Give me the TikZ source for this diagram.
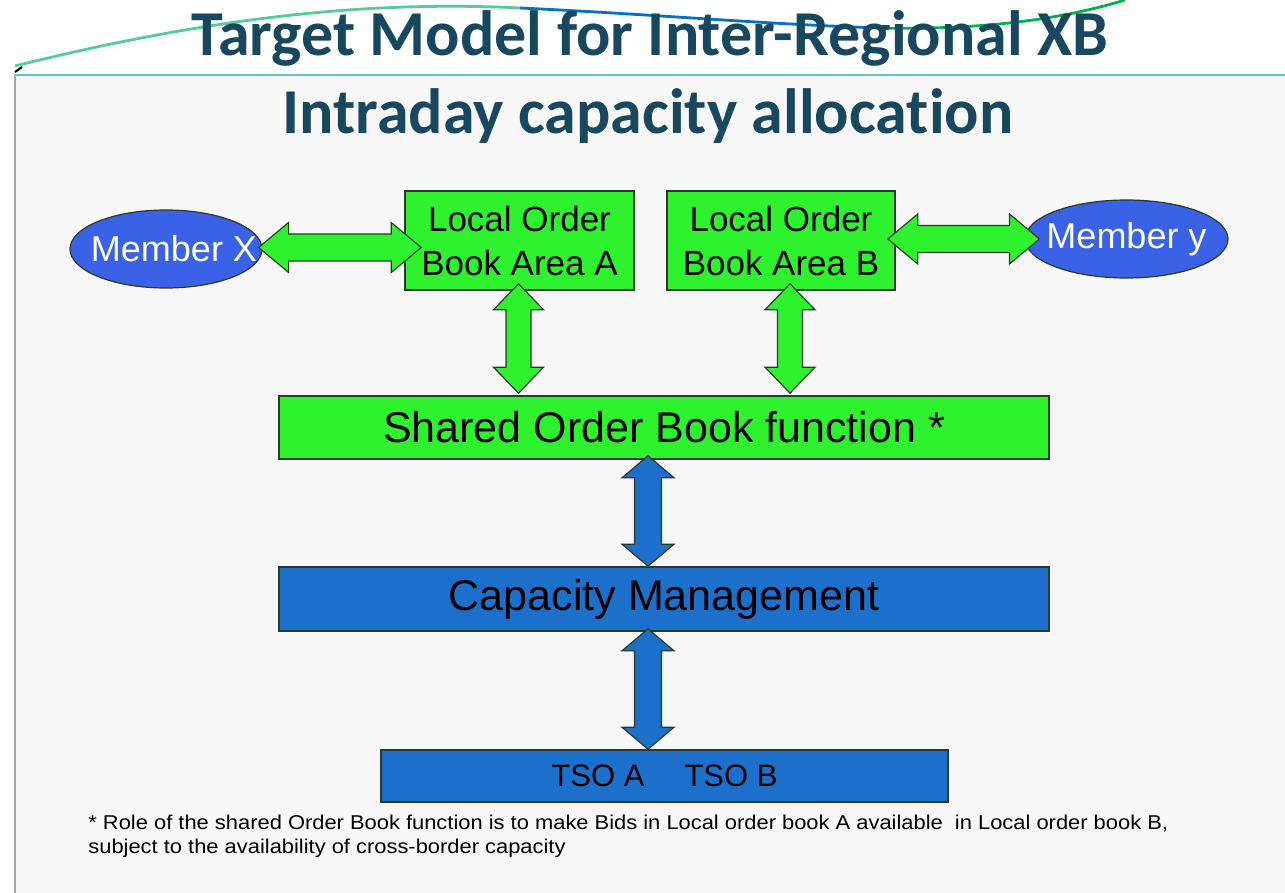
\documentclass[tikz,border=0pt]{standalone}
\usepackage{fontspec}
\setmainfont{Liberation Sans}
\newfontfamily\titlefont{Carlito}[Ligatures=NoCommon]
\newfontfamily\notefont{Liberation Sans}[FakeStretch=1.095]
\usetikzlibrary{calc,shapes.geometric}
\definecolor{bgc}{HTML}{F7F7F7}
\definecolor{titlec}{HTML}{17485F}
\definecolor{gfill}{HTML}{2EF22E}
\definecolor{bfill}{HTML}{1C6FCB}
\definecolor{efill}{HTML}{3A62E6}
\definecolor{framec}{HTML}{6BBFC0}
\definecolor{edgec}{HTML}{2A3A2A}
\tikzset{
  gbox/.style={draw=edgec, line width=0.8pt, fill=gfill, inner sep=0pt, align=center},
  bbox/.style={draw=edgec, line width=0.8pt, fill=bfill, inner sep=0pt, align=center},
  memb/.style={ellipse, draw=edgec, line width=0.6pt, fill=efill, inner xsep=-12pt, inner ysep=0pt, text=white},
  garrow/.style={draw=edgec, line width=0.6pt, fill=gfill},
  barrow/.style={draw=edgec, line width=0.6pt, fill=bfill},
}
% vertical double block arrow: style, top point, bottom point, head half width, shaft half width, head length
\newcommand\vdblarrow[6]{%
  \filldraw[#1] let \p1=#2, \p2=#3 in
    (\x1,\y1) -- (\x1+#4,\y1-#6) -- (\x1+#5,\y1-#6) -- (\x1+#5,\y2+#6) -- (\x1+#4,\y2+#6)
    -- (\x1,\y2) -- (\x1-#4,\y2+#6) -- (\x1-#5,\y2+#6) -- (\x1-#5,\y1-#6) -- (\x1-#4,\y1-#6) -- cycle;}
% horizontal double block arrow: style, left point, right point, head half height, shaft half height, head length
\newcommand\hdblarrow[6]{%
  \filldraw[#1] let \p1=#2, \p2=#3 in
    (\x1,\y1) -- (\x1+#6,\y1+#4) -- (\x1+#6,\y1+#5) -- (\x2-#6,\y1+#5) -- (\x2-#6,\y1+#4)
    -- (\x2,\y1) -- (\x2-#6,\y1-#4) -- (\x2-#6,\y1-#5) -- (\x1+#6,\y1-#5) -- (\x1+#6,\y1-#4) -- cycle;}
\begin{document}
\begin{tikzpicture}[x=0.5pt,y=-0.5pt]
\useasboundingbox (0,0) rectangle (1285,893);
\fill[white] (0,0) rectangle (1285,893);
\fill[bgc] (15,75) rectangle (1285,893);
% frame
\draw[framec, line width=1.2pt] (15,75) -- (1285,75);
\draw[gray!70, line width=0.8pt] (15,75) -- (15,893);
\draw[black, line width=1pt] (15,72) -- (22,67);
% wave
\draw[line width=1.4pt, color=framec!80!green] (15,66) .. controls (200,20) and (360,0) .. (520,8);
\draw[line width=1.4pt, color=blue!45!cyan!80!black] (520,8) .. controls (650,14) and (760,24) .. (880,28);
\draw[line width=1.4pt, color=teal!60!green] (880,28) .. controls (980,30) and (1060,20) .. (1125,0);
% title
\node[anchor=base, text=titlec, font=\titlefont\bfseries\fontsize{32}{38}\selectfont] (t1) at (650,56) {Target Model for Inter-Regional XB};
\node[anchor=base, text=titlec, font=\titlefont\bfseries\fontsize{32}{38}\selectfont] (t2) at (648,134) {Intraday capacity allocation};
% nodes
\node[memb, minimum width=96pt, minimum height=39pt, font=\fontsize{18}{22}\selectfont] (mx) at (166,249) {\hspace{8pt}Member X};
\node[memb, minimum width=101.5pt, minimum height=39pt, font=\fontsize{18}{22}\selectfont] (my) at (1126.5,239) {Member y};
\node[gbox, minimum width=114.5pt, minimum height=49.5pt, font=\fontsize{17.5}{22}\selectfont] (la) at (519.5,240.5) {Local Order\\Book Area A};
\node[gbox, minimum width=114pt, minimum height=49.5pt, font=\fontsize{17.5}{22}\selectfont] (lb) at (781,240.5) {Local Order\\Book Area B};
\node[gbox, minimum width=385pt, minimum height=31.5pt, font=\fontsize{21.5}{25}\selectfont] (sh) at (664,427.5) {Shared Order Book function *};
\node[bbox, minimum width=385pt, minimum height=32pt, font=\fontsize{21.5}{25}\selectfont] (cap) at (664,599) {Capacity Management};
\node[bbox, minimum width=283.5pt, minimum height=26pt, font=\fontsize{15.5}{18}\selectfont] (tso) at (664.5,776) {TSO A\hspace{20pt}TSO B};
% arrows
\hdblarrow{garrow}{($(mx.east)+(-4,-1.5)$)}{($(la.west)+(17,0)$)}{12.5pt}{6.75pt}{15pt}
\hdblarrow{garrow}{($(lb.east)+(-8,-1.5)$)}{($(my.west)+(15,0)$)}{12.5pt}{6.75pt}{15pt}
\vdblarrow{garrow}{($(la.south)+(-1,-7)$)}{($(sh.north)+(0,-2)$)}{12.5pt}{6.25pt}{13pt}
\vdblarrow{garrow}{($(lb.south)+(9,-7)$)}{($(sh.north)+(0,-2)$)}{12.5pt}{6.25pt}{13pt}
\vdblarrow{barrow}{($(sh.south)+(-16,-4)$)}{(cap.north)}{13pt}{6.75pt}{11pt}
\vdblarrow{barrow}{($(cap.south)+(-16,-3)$)}{(tso.north)}{13pt}{6.75pt}{11pt}
% footnote
\node[anchor=base west, inner sep=0pt, font=\notefont\fontsize{10}{12}\selectfont] (fn1) at (88,829) {* Role of the shared Order Book function is to make Bids in Local order book A available\ \ in Local order book B,};
\node[anchor=base west, inner sep=0pt, font=\notefont\fontsize{10}{12}\selectfont] (fn2) at (88,853) {subject to the availability of cross-border capacity};
\end{tikzpicture}
\end{document}
